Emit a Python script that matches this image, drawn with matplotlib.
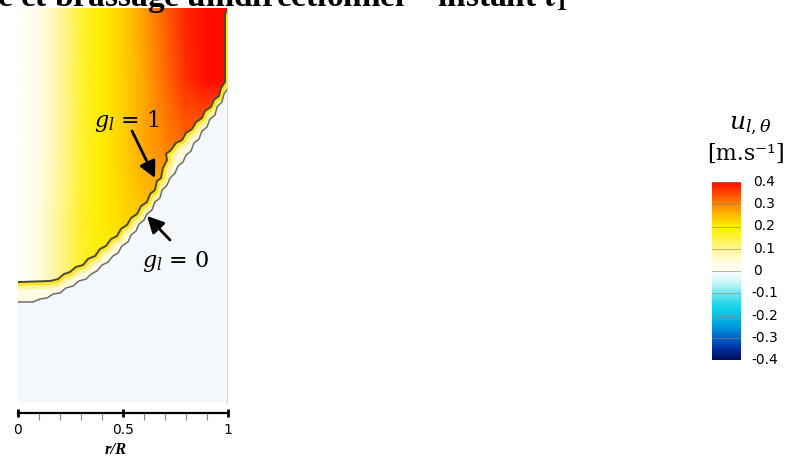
import numpy as np
import matplotlib
matplotlib.use("Agg")
import matplotlib.pyplot as plt
from matplotlib.colors import LinearSegmentedColormap, Normalize
from matplotlib.patches import Polygon
import matplotlib.colorbar as mcolorbar

plt.rcParams['mathtext.fontset'] = 'stix'

# ---------------- data ----------------
# velocity field u_l,theta [m/s] read on a coarse (z, r) grid of the liquid zone
r_nodes = [0.0, 0.1, 0.2, 0.3, 0.4, 0.5, 0.6, 0.7, 0.8, 0.9, 1.0]
z_nodes = [0.0, 0.54, 0.87, 1.20, 1.54, 1.881]
u_field = [
    [0.00, 0.04, 0.10, 0.16, 0.19, 0.20, 0.20, 0.20, 0.20, 0.20, 0.20],
    [0.00, 0.04, 0.10, 0.16, 0.19, 0.20, 0.20, 0.20, 0.20, 0.20, 0.20],
    [0.00, 0.04, 0.10, 0.16, 0.20, 0.22, 0.24, 0.25, 0.23, 0.21, 0.20],
    [0.00, 0.03, 0.09, 0.15, 0.20, 0.23, 0.27, 0.30, 0.32, 0.30, 0.26],
    [0.00, 0.03, 0.09, 0.15, 0.20, 0.23, 0.27, 0.32, 0.37, 0.40, 0.40],
    [0.00, 0.03, 0.09, 0.15, 0.20, 0.23, 0.28, 0.33, 0.38, 0.41, 0.42],
]
z_top = 1.881

# liquidus front g_l = 1 (r/R, z/R)
g1_r = [0.0, 0.152, 0.190, 0.219, 0.248, 0.276, 0.310, 0.333, 0.367, 0.390,
        0.419, 0.443, 0.471, 0.490, 0.519, 0.538, 0.567, 0.586, 0.614, 0.629,
        0.652, 0.662, 0.681, 0.690, 0.710, 0.705, 0.729, 0.752, 0.781, 0.800,
        0.829, 0.848, 0.876, 0.890, 0.919, 0.933, 0.957, 0.967, 0.986, 0.986,
        0.995]
g1_z = [0.576, 0.581, 0.590, 0.614, 0.624, 0.648, 0.657, 0.686, 0.700, 0.733,
        0.748, 0.781, 0.795, 0.829, 0.848, 0.881, 0.900, 0.938, 0.957, 0.995,
        1.014, 1.057, 1.071, 1.119, 1.157, 1.186, 1.205, 1.238, 1.252, 1.286,
        1.305, 1.338, 1.357, 1.390, 1.410, 1.443, 1.462, 1.500, 1.529, 1.852,
        1.871]
# solidus front g_l = 0
g0_r = [0.0, 0.071, 0.105, 0.138, 0.167, 0.200, 0.229, 0.262, 0.290, 0.324,
        0.348, 0.376, 0.400, 0.429, 0.452, 0.476, 0.495, 0.524, 0.538, 0.562,
        0.576, 0.600, 0.614, 0.638, 0.652, 0.676, 0.686, 0.710, 0.724, 0.748,
        0.762, 0.786, 0.800, 0.824, 0.838, 0.862, 0.876, 0.900, 0.914, 0.938,
        0.948, 0.971, 0.981, 1.0]
g0_z = [0.481, 0.481, 0.495, 0.500, 0.519, 0.524, 0.548, 0.557, 0.581, 0.590,
        0.614, 0.629, 0.657, 0.671, 0.700, 0.714, 0.748, 0.767, 0.800, 0.819,
        0.852, 0.871, 0.900, 0.919, 0.957, 0.976, 1.014, 1.038, 1.071, 1.095,
        1.129, 1.148, 1.181, 1.200, 1.238, 1.257, 1.295, 1.314, 1.352, 1.371,
        1.410, 1.433, 1.471, 1.500]

x_ticks = [0, 0.5, 1]
x_ticklabels = ['0', '0.5', '1']
cb_ticks = [0.4, 0.3, 0.2, 0.1, 0.0, -0.1, -0.2, -0.3, -0.4]
cb_labels = ['0.4', '0.3', '0.2', '0.1', '0', '-0.1', '-0.2', '-0.3', '-0.4']
vmin, vmax = -0.4, 0.4

# ---------------- figure ----------------
W, H = 797, 459
fig = plt.figure(figsize=(W / 100, H / 100), dpi=100)


def fx(px):
    return px / W


def fy(py):
    return 1 - py / H


cmap = LinearSegmentedColormap.from_list('tec', [
    (0.0, '#000c58'), (0.0625, '#0030a0'), (0.125, '#0064c8'), (0.1875, '#0098dc'),
    (0.25, '#00c4e0'), (0.3125, '#22d8e8'), (0.375, '#70e8f0'), (0.4375, '#cdf6f8'),
    (0.5, '#ffffff'), (0.5625, '#fffbd6'), (0.625, '#fff594'), (0.6875, '#fff23a'),
    (0.75, '#ffee00'), (0.8125, '#ffbe00'), (0.875, '#ff8800'), (0.9375, '#ff4800'),
    (1.0, '#ff0c00')])
norm = Normalize(vmin, vmax)

# main domain axes
ax = fig.add_axes([fx(18), fy(403), fx(228) - fx(18), fy(8) - fy(403)])
ax.set_xlim(0, 1)
ax.set_ylim(0, z_top)
ax.set_facecolor('#f4f8fa')
for s in ax.spines.values():
    s.set_visible(False)
ax.set_xticks([])
ax.set_yticks([])

liq_pts = [(0, z_top)] + list(zip(g1_r, g1_z)) + [(g1_r[-1], z_top)]
liq = Polygon(liq_pts, closed=True, facecolor='none', edgecolor='none', transform=ax.transData)
ax.add_patch(liq)
mesh = ax.pcolormesh(r_nodes, z_nodes, np.array(u_field), shading='gouraud',
                     cmap=cmap, norm=norm, zorder=1)
mesh.set_clip_path(liq)

mush_pts = list(zip(g1_r, g1_z)) + [(1.0, z_top)] + list(zip(g0_r[::-1], g0_z[::-1]))
mush = Polygon(mush_pts, closed=True, facecolor='#fffbe2', edgecolor='none', zorder=2)
ax.add_patch(mush)
b1, = ax.plot(g1_r, g1_z, color='#fff39a', lw=11, zorder=2.1, solid_capstyle='butt')
b1.set_clip_path(mush)
b2, = ax.plot(g1_r, g1_z, color='#ffe624', lw=5.5, zorder=2.2, solid_capstyle='butt')
b2.set_clip_path(mush)

ax.plot(g0_r, g0_z, color='#6e6e6e', lw=1.1, zorder=3)
ax.plot(g1_r, g1_z, color='#4a4a3c', lw=1.4, zorder=3)
ax.axvline(1.0, color='#d2d7da', lw=2.0, zorder=4)

# annotations
ax.annotate('', xy=(155, H - 178), xytext=(132, H - 131), xycoords='figure pixels',
            textcoords='figure pixels',
            arrowprops=dict(arrowstyle='-|>,head_length=0.55,head_width=0.28',
                            mutation_scale=18, lw=2, color='black', shrinkA=0, shrinkB=0))
ax.annotate('', xy=(147, H - 216), xytext=(170, H - 240), xycoords='figure pixels',
            textcoords='figure pixels',
            arrowprops=dict(arrowstyle='-|>,head_length=0.55,head_width=0.28',
                            mutation_scale=18, lw=2, color='black', shrinkA=0, shrinkB=0))
fig.text(fx(127), fy(121), r'$g_l$ = 1', fontsize=16, ha='center', va='center',
         family='DejaVu Serif', math_fontfamily='dejavuserif')
fig.text(fx(176), fy(262), r'$g_l$ = 0', fontsize=16, ha='center', va='center',
         family='DejaVu Serif', math_fontfamily='dejavuserif')

# r/R axis
axx = fig.add_axes([fx(18), fy(413), fx(228) - fx(18), 0.001])
axx.set_xlim(0, 1)
axx.set_ylim(0, 1)
for k in ['left', 'right', 'top']:
    axx.spines[k].set_visible(False)
axx.spines['bottom'].set_linewidth(1.6)
axx.set_yticks([])
axx.set_xticks(x_ticks)
axx.set_xticklabels(x_ticklabels, family='DejaVu Sans', fontsize=10)
axx.set_xticks(np.arange(0, 1.01, 0.1), minor=True)
axx.tick_params(axis='x', which='major', direction='inout', length=6, width=2, pad=4)
axx.tick_params(axis='x', which='minor', direction='out', length=5, width=0.8, colors='#888888')
axx.patch.set_visible(False)
fig.text(fx(116), fy(450), 'r/R', family='Liberation Serif', style='italic',
         fontweight='bold', fontsize=12, ha='center', va='center')

# colorbar
cax = fig.add_axes([fx(712), fy(360), fx(741) - fx(712), fy(182) - fy(360)])
cb = mcolorbar.ColorbarBase(cax, cmap=cmap, norm=norm, orientation='vertical')
cb.outline.set_visible(False)
cax.set_yticks([])
for v, lab in zip(cb_ticks, cb_labels):
    cax.axhline(v, color='#8a8a60', lw=0.6, alpha=0.7)
    if lab.startswith('-'):
        cax.text(2.28, v, lab, transform=cax.get_yaxis_transform(), ha='right',
                 va='center', family='DejaVu Sans', fontsize=10)
    else:
        cax.text(1.42, v, lab, transform=cax.get_yaxis_transform(), ha='left',
                 va='center', family='DejaVu Sans', fontsize=10)
fig.text(fx(750), fy(125), r'$u_{l,\theta}$', fontsize=18, ha='center', va='center',
         math_fontfamily='dejavuserif')
fig.text(fx(746), fy(154), '[m.s⁻¹]', family='DejaVu Serif', fontsize=16,
         ha='center', va='center')

# title (cropped at the top of the picture)
fig.text(fx(-3), fy(6), r'e et brassage unidirectionnel – instant $\mathbf{t_1}$',
         family='Liberation Serif', fontweight='bold', fontsize=24,
         ha='left', va='baseline')

fig.savefig('out.png', dpi=100)
